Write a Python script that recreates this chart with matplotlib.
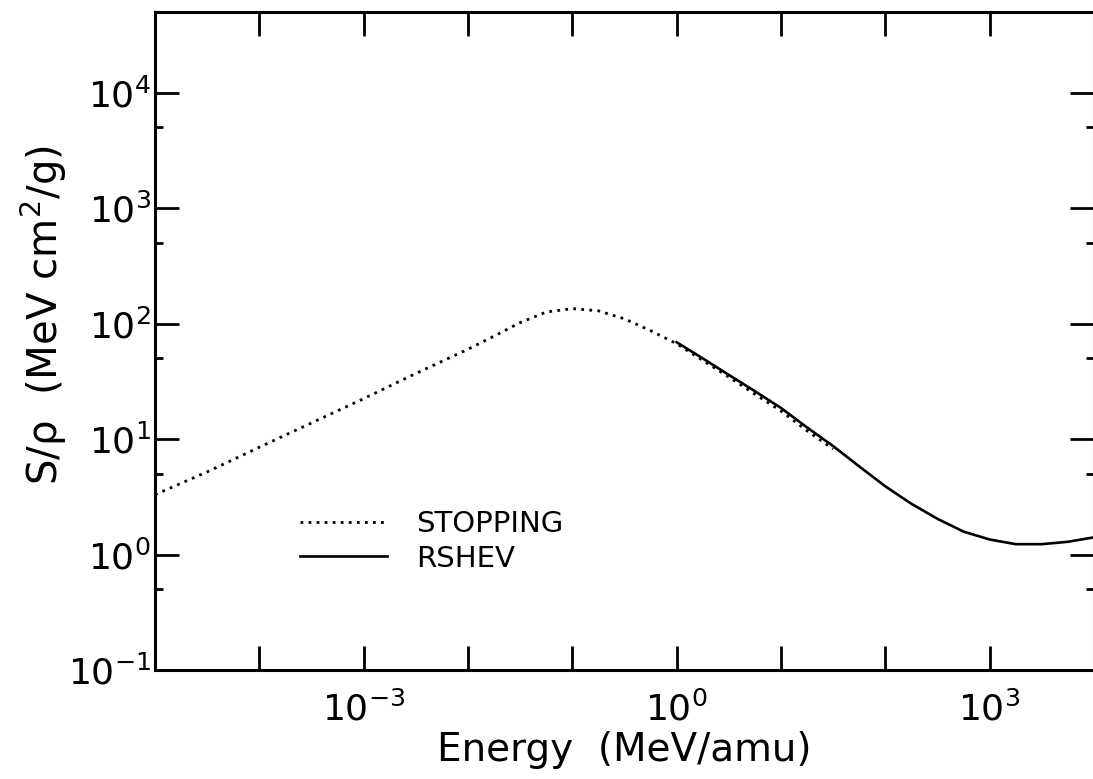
import math

import matplotlib
matplotlib.use("Agg")
import matplotlib.pyplot as plt
from matplotlib.ticker import LogLocator, FixedLocator, FuncFormatter, NullFormatter

# STOPPING (dotted) curve
stopping_energy = [1.0e-5, 3.16e-5, 1.0e-4, 3.16e-4, 1.0e-3, 3.16e-3, 1.0e-2,
                   1.78e-2, 3.16e-2, 5.62e-2, 0.1, 0.178, 0.316, 0.562, 1.0,
                   1.78, 3.16, 5.62, 10.0, 17.8, 31.6]
stopping_value = [3.3, 5.2, 8.5, 13.8, 22.4, 37.0, 60.0,
                  78.0, 102.0, 126.0, 135.0, 129.0, 110.0, 87.0, 67.0,
                  48.0, 34.5, 24.5, 17.5, 11.8, 8.2]

# RSHEV (solid) curve
rshev_energy = [1.0, 1.78, 3.16, 5.62, 10.0, 17.8, 31.6, 56.2, 100.0, 178.0,
                316.0, 562.0, 1000.0, 1780.0, 3160.0, 5620.0, 10000.0]
rshev_value = [69.0, 50.0, 36.0, 26.0, 18.6, 12.6, 8.7, 5.8, 3.9, 2.75,
               2.04, 1.58, 1.35, 1.23, 1.23, 1.29, 1.41]

x_labelled = [1e-3, 1e0, 1e3]


def power_label(v, pos):
    return r"$10^{%d}$" % round(math.log10(v))


def x_label(v, pos):
    if any(abs(v - t) / t < 1e-6 for t in x_labelled):
        return power_label(v, pos)
    return ""


plt.rcParams["font.family"] = ["DejaVu Sans"]
plt.rcParams["mathtext.fontset"] = "dejavusans"

fig = plt.figure(figsize=(10.93, 7.79), dpi=100)
ax = fig.add_axes([0.1418, 0.1399, 0.8591, 0.8447])

ax.plot(stopping_energy, stopping_value, color="black", lw=2.0,
        linestyle=(0, (1, 1.9)), label="STOPPING")
ax.plot(rshev_energy, rshev_value, color="black", lw=1.9,
        linestyle="-", label="RSHEV")

ax.set_xscale("log")
ax.set_yscale("log")
ax.set_xlim(1e-5, 1e4)
ax.set_ylim(1e-1, 5e4)

for side in ax.spines.values():
    side.set_linewidth(2.2)

ax.xaxis.set_major_locator(FixedLocator([10.0 ** k for k in range(-5, 5)]))
ax.xaxis.set_minor_locator(FixedLocator([]))
ax.xaxis.set_major_formatter(FuncFormatter(x_label))

ax.yaxis.set_major_locator(LogLocator(base=10, numticks=20))
ax.yaxis.set_minor_locator(LogLocator(base=10, subs=[5.0], numticks=20))
ax.yaxis.set_minor_formatter(NullFormatter())
ax.yaxis.set_major_formatter(FuncFormatter(power_label))

ax.tick_params(which="major", direction="in", length=17, width=2.0,
               top=True, right=True, labelsize=26)
ax.tick_params(which="minor", direction="in", length=6, width=2.0,
               top=False, right=True)
ax.tick_params(axis="x", which="major", pad=15)
ax.tick_params(axis="y", which="major", pad=3)

ax.set_xlabel("Energy  (MeV/amu)", fontsize=28, labelpad=3)
ax.set_ylabel(r"S/ρ  (MeV cm$^{2}$/g)", fontsize=29)
ax.yaxis.set_label_coords(-0.092, 0.54)

ax.legend(loc="upper left", bbox_to_anchor=(0.154, 0.243), frameon=False,
          fontsize=21, handlelength=2.98, handletextpad=1.03,
          labelspacing=0.22, borderpad=0, borderaxespad=0)

fig.savefig("out.png", dpi=100)
